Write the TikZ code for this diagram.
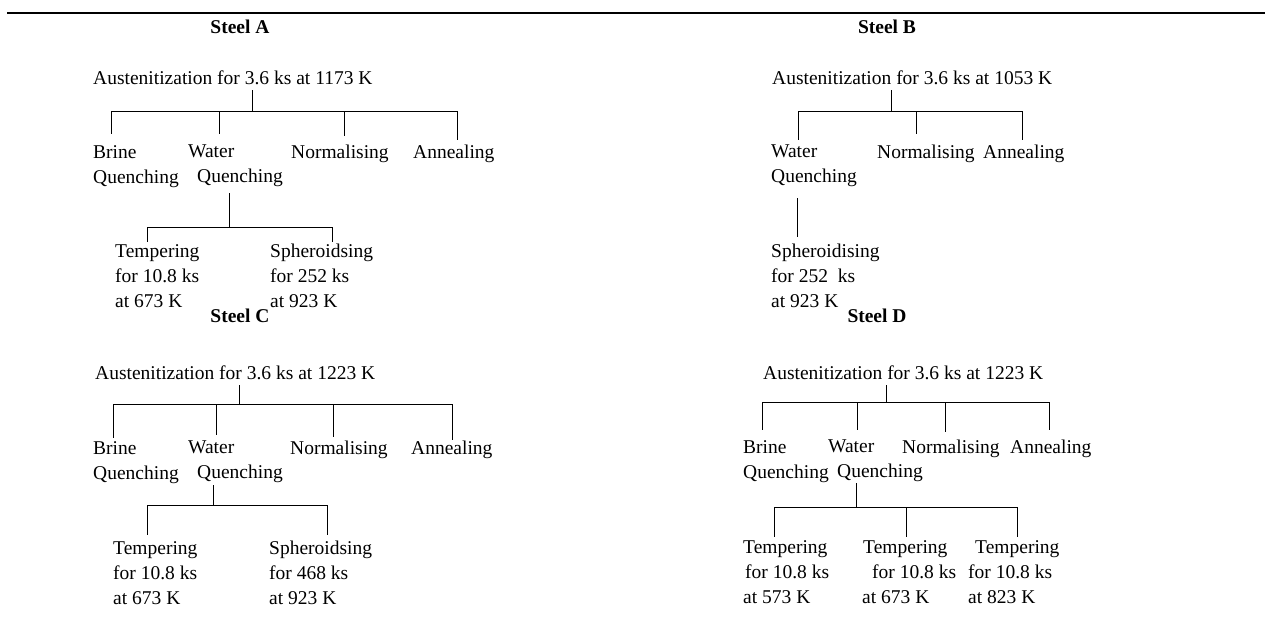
\documentclass[tikz,border=0pt]{standalone}
\usepackage{fontspec}
\setmainfont{Liberation Serif}

\tikzset{
  lbl/.style={inner sep=0pt, align=left, anchor=north west, font=\fontsize{19.5}{25}\selectfont},
  head/.style={inner sep=0pt, anchor=west, font=\fontsize{19.5}{25}\selectfont},
  title/.style={inner sep=0pt, font=\fontsize{19.5}{25}\selectfont\bfseries},
  link/.style={line width=1pt}
}

\begin{document}
\begin{tikzpicture}[x=1pt, y=-1pt]
\useasboundingbox (0,0) rectangle (1265,629);

\draw[line width=2pt] (7,13) -- (1265,13);

% Steel A
\node[title] (tA) at (240,27) {Steel A};
\node[head] (ausA) at (93,78) {Austenitization for 3.6 ks at 1173 K};
\node[lbl] (brA) at (93,145) {Brine\\Quenching};
\node[lbl] (waA) at (188,145) {Water\\\hspace*{9pt}Quenching};
\node[lbl] (noA) at (291,145) {Normalising};
\node[lbl] (anA) at (413,145) {Annealing};
\node[lbl] (teA) at (115,244) {Tempering\\for 10.8 ks\\at 673 K};
\node[lbl] (spA) at (270,244) {Spheroidsing\\for 252 ks\\at 923 K};

\coordinate (jA) at (252,111);
\coordinate (dA1) at (111,111);
\coordinate (dA2) at (219,111);
\coordinate (dA3) at (344,111);
\coordinate (dA4) at (457,111);
\coordinate (jA2) at (229,227);
\coordinate (eA1) at (147,227);
\coordinate (eA2) at (332,227);

\draw[link, shorten <=5pt] (jA |- ausA.south) -- (jA);
\draw[link] (dA1) -- (dA4);
\draw[link, shorten >=11pt] (dA1) -- (dA1 |- brA.north);
\draw[link, shorten >=11pt] (dA2) -- (dA2 |- waA.north);
\draw[link, shorten >=9pt] (dA3) -- (dA3 |- noA.north);
\draw[link, shorten >=5pt] (dA4) -- (dA4 |- anA.north);
\draw[link, shorten <=6pt] (jA2 |- waA.south) -- (jA2);
\draw[link] (eA1) -- (eA2);
\draw[link, shorten >=2pt] (eA1) -- (eA1 |- teA.north);
\draw[link, shorten >=2pt] (eA2) -- (eA2 |- spA.north);

% Steel B
\node[title] (tB) at (887,27) {Steel B};
\node[head] (ausB) at (772,78) {Austenitization for 3.6 ks at 1053 K};
\node[lbl] (waB) at (771,145) {Water\\Quenching};
\node[lbl] (noB) at (877,145) {Normalising};
\node[lbl] (anB) at (983,145) {Annealing};
\node[lbl] (spB) at (771,244) {Spheroidising\\for 252~ ks\\at 923 K};

\coordinate (jB) at (891,111);
\coordinate (dB1) at (798,111);
\coordinate (dB2) at (916,111);
\coordinate (dB3) at (1022,111);
\coordinate (jB2) at (797,198);

\draw[link, shorten <=5pt] (jB |- ausB.south) -- (jB);
\draw[link] (dB1) -- (dB3);
\draw[link, shorten >=5pt] (dB1) -- (dB1 |- waB.north);
\draw[link, shorten >=11pt] (dB2) -- (dB2 |- noB.north);
\draw[link, shorten >=5pt] (dB3) -- (dB3 |- anB.north);
\draw[link, shorten >=7pt] (jB2) -- (jB2 |- spB.north);

% Steel C
\node[title] (tC) at (240,316) {Steel C};
\node[head] (ausC) at (95,373) {Austenitization for 3.6 ks at 1223 K};
\node[lbl] (brC) at (93,441) {Brine\\Quenching};
\node[lbl] (waC) at (188,441) {Water\\\hspace*{9pt}Quenching};
\node[lbl] (noC) at (290,441) {Normalising};
\node[lbl] (anC) at (411,441) {Annealing};
\node[lbl] (teC) at (113,541) {Tempering\\for 10.8 ks\\at 673 K};
\node[lbl] (spC) at (269,541) {Spheroidsing\\for 468 ks\\at 923 K};

\coordinate (jC) at (239,404);
\coordinate (dC1) at (113,404);
\coordinate (dC2) at (216,404);
\coordinate (dC3) at (333,404);
\coordinate (dC4) at (452,404);
\coordinate (jC2) at (213,505);
\coordinate (eC1) at (147,505);
\coordinate (eC2) at (327,505);

\draw[link, shorten <=5pt] (jC |- ausC.south) -- (jC);
\draw[link] (dC1) -- (dC4);
\draw[link, shorten >=3pt] (dC1) -- (dC1 |- brC.north);
\draw[link, shorten >=6pt] (dC2) -- (dC2 |- waC.north);
\draw[link, shorten >=4pt] (dC3) -- (dC3 |- noC.north);
\draw[link, shorten >=1pt] (dC4) -- (dC4 |- anC.north);
\draw[link, shorten <=2pt] (jC2 |- waC.south) -- (jC2);
\draw[link] (eC1) -- (eC2);
\draw[link, shorten >=6pt] (eC1) -- (eC1 |- teC.north);
\draw[link, shorten >=6pt] (eC2) -- (eC2 |- spC.north);

% Steel D
\node[title] (tD) at (877,316) {Steel D};
\node[head] (ausD) at (763,373) {Austenitization for 3.6 ks at 1223 K};
\node[lbl] (brD) at (743,440) {Brine\\Quenching};
\node[lbl] (waD) at (828,440) {Water\\\hspace*{9pt}Quenching};
\node[lbl] (noD) at (902,440) {Normalising};
\node[lbl] (anD) at (1010,440) {Annealing};
\node[lbl] (teD1) at (743,540) {Tempering\\\hspace*{2pt}for 10.8 ks\\at 573 K};
\node[lbl] (teD2) at (862,540) {\hspace*{1pt}Tempering\\\hspace*{10pt}for 10.8 ks\\at 673 K};
\node[lbl] (teD3) at (968,540) {\hspace*{7pt}Tempering\\for 10.8 ks\\at 823 K};

\coordinate (jD) at (886,402);
\coordinate (dD1) at (762,402);
\coordinate (dD2) at (857,402);
\coordinate (dD3) at (945,402);
\coordinate (dD4) at (1049,402);
\coordinate (jD2) at (856,507);
\coordinate (eD1) at (774,507);
\coordinate (eD2) at (906,507);
\coordinate (eD3) at (1017,507);

\draw[link, shorten <=5pt] (jD |- ausD.south) -- (jD);
\draw[link] (dD1) -- (dD4);
\draw[link, shorten >=10pt] (dD1) -- (dD1 |- brD.north);
\draw[link, shorten >=10pt] (dD2) -- (dD2 |- waD.north);
\draw[link, shorten >=8pt] (dD3) -- (dD3 |- noD.north);
\draw[link, shorten >=10pt] (dD4) -- (dD4 |- anD.north);
\draw[link, shorten <=1pt] (jD2 |- waD.south) -- (jD2);
\draw[link] (eD1) -- (eD3);
\draw[link, shorten >=3pt] (eD1) -- (eD1 |- teD1.north);
\draw[link, shorten >=3pt] (eD2) -- (eD2 |- teD2.north);
\draw[link, shorten >=3pt] (eD3) -- (eD3 |- teD3.north);

\end{tikzpicture}
\end{document}
